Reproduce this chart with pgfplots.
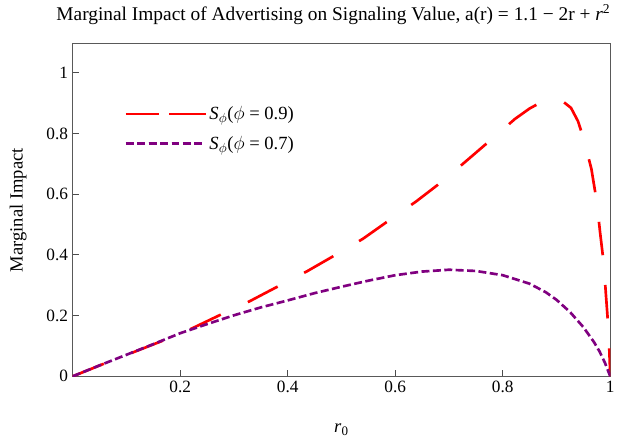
\documentclass[border=0pt]{standalone}
\usepackage{fontspec}
\setmainfont{Liberation Serif}
\usepackage{pgfplots}
\pgfplotsset{compat=1.18}
\definecolor{mpurple}{rgb}{0.5,0,0.5}
\definecolor{mred}{rgb}{1,0,0}
\begin{document}
\begin{tikzpicture}
\begin{axis}[
  scale only axis,
  width=405pt, height=250.5pt,
  xmin=0, xmax=1, ymin=0, ymax=1.095,
  xtick={0.2,0.4,0.6,0.8,1},
  xticklabels={0.2,0.4,0.6,0.8,1},
  ytick={0,0.2,0.4,0.6,0.8,1},
  yticklabels={0,0.2,0.4,0.6,0.8,1},
  tick pos=left,
  tick align=inside,
  major tick length=4.5pt,
  axis line style={black!65, line width=0.6pt},
  tick style={black!70, line width=0.6pt},
  ticklabel style={font=\fontsize{13}{15}\selectfont},
  /pgf/number format/assume math mode=true,
  title={Marginal Impact of Advertising on Signaling Value, a(r) = 1.1 − 2r + \textit{r}\textsuperscript{2}},
  title style={font=\fontsize{14.6}{17}\selectfont, at={(rel axis cs:0.485,1)}, anchor=south, yshift=5pt},
  xlabel={\textit{r}\textsubscript{0}},
  ylabel={Marginal Impact},
  every axis x label/.style={at={(rel axis cs:0.5,0)}, anchor=center, yshift=-40pt, font=\fontsize{14}{16}\selectfont},
  every axis y label/.style={at={(rel axis cs:0,0.5)}, xshift=-41pt, anchor=center, rotate=90, font=\fontsize{14}{16}\selectfont},
  legend style={draw=none, fill=none, at={(rel axis cs:0.096,0.821)}, anchor=north west,
    font=\fontsize{14}{16}\selectfont, row sep=7pt, inner sep=0pt},
  legend cell align=left,
  legend image code/.code={\draw[#1] (0pt,0pt) -- (49.5pt,0pt); \path (0pt,0pt) -- (60pt,0pt);},
]
\addplot[mred, line width=2pt, dash pattern=on 25.3pt off 22.5pt,
  legend image code/.code={\draw[mred, line width=2pt, dash pattern=on 19pt off 13.5pt] (0pt,0pt) -- (49.5pt,0pt); \path (0pt,0pt) -- (60pt,0pt);}] coordinates {
(0,0) (0.056,0.040) (0.111,0.078) (0.170,0.119) (0.221,0.157) (0.280,0.207)
(0.330,0.248) (0.386,0.300) (0.436,0.346) (0.492,0.403) (0.540,0.453)
(0.592,0.518) (0.639,0.576) (0.689,0.644) (0.732,0.709) (0.780,0.782)
(0.823,0.848) (0.850,0.882) (0.877,0.908) (0.895,0.915) (0.912,0.905)
(0.927,0.884) (0.940,0.840) (0.951,0.780) (0.965,0.682) (0.975,0.574)
(0.981,0.475) (0.988,0.370) (0.992,0.267) (0.997,0.146) (1,0)
};
\addlegendentry{\textit{S}\textsubscript{$\phi$}($\phi$ = 0.9)}
\addplot[mpurple, line width=2pt, dash pattern=on 6pt off 2.6pt] coordinates {
(0,0) (0.05,0.036) (0.1,0.071) (0.15,0.106) (0.2,0.142) (0.25,0.172)
(0.3,0.201) (0.35,0.227) (0.4,0.250) (0.45,0.274) (0.5,0.295) (0.55,0.315)
(0.6,0.333) (0.65,0.345) (0.7,0.351) (0.75,0.347) (0.8,0.333) (0.85,0.305)
(0.88,0.277) (0.9,0.252) (0.925,0.212) (0.95,0.162) (0.97,0.112)
(0.98,0.082) (0.99,0.045) (1,0)
};
\addlegendentry{\textit{S}\textsubscript{$\phi$}($\phi$ = 0.7)}
\end{axis}
\path (-54.75pt,-49.5pt) rectangle (409.5pt,279.75pt);
\end{tikzpicture}
\end{document}
